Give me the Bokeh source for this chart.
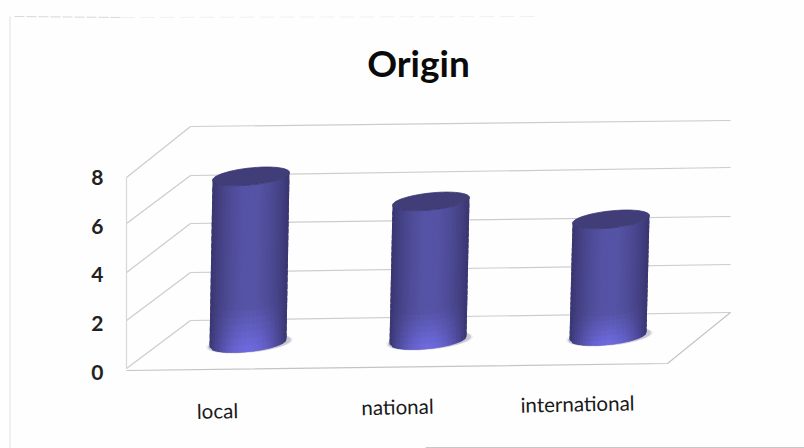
import numpy as np
from bokeh.core.properties import value
from bokeh.embed import file_html
from bokeh.models import FixedTicker, LinearAxis, Range1d
from bokeh.plotting import figure
from bokeh.resources import INLINE

# Chart content
title = "Origin"
categories = ["local", "national", "international"]
values = [6.85, 5.7, 4.8]
ticks = [0, 2, 4, 6, 8]

# Layout of the pseudo-3D scene, in page pixels
W, H = 804, 448
FRAME_LEFT = 120
Y0_PX = 372
PX_PER_UNIT = 24.4
BAR_X_PX = [249, 429, 609]
BAR_BASE_PX = [343, 340, 336]
BAR_A = 38.5
BAR_B = 8.5
BAR_TILT = 0.1
BAR_LEAN = 3.0


def xd(px):
    return np.asarray(px, dtype=float)


def yd(py):
    return (Y0_PX - np.asarray(py, dtype=float)) / PX_PER_UNIT


p = figure(width=W, height=H, output_backend="svg", toolbar_location=None,
           x_range=Range1d(FRAME_LEFT, W), y_range=Range1d(float(yd(H)), float(yd(0))),
           x_axis_location=None, y_axis_location=None,
           min_border_left=FRAME_LEFT, min_border_right=0, min_border_top=0, min_border_bottom=0)
p.background_fill_color = "#fefefe"
p.border_fill_color = "#fefefe"
p.outline_line_color = None
p.xgrid.visible = False
p.ygrid.visible = False

axis = LinearAxis(ticker=FixedTicker(ticks=ticks))
axis.axis_line_color = None
axis.major_tick_line_color = None
axis.minor_tick_line_color = None
axis.major_label_standoff = 11
axis.major_label_text_font = "Lato"
axis.major_label_text_font_size = "21px"
axis.major_label_text_font_style = "bold"
axis.major_label_text_color = "#222222"
p.add_layout(axis, "left")

# Walls and floor: front edge, back wall gridlines, side wall gridlines
GRID = "#cccccc"
front_x, back_x, right_x = 126, 190, 730
front_left = {8: 177, 6: 223, 4: 272, 2: 320, 0: 368}
back_left = {8: 126, 6: 175, 4: 223, 2: 272, 0: 320}
back_right = {8: 120, 6: 167, 4: 216, 2: 264, 0: 312}
for t in ticks:
    p.line(xd([back_x, right_x]), yd([back_left[t], back_right[t]]), line_color=GRID, line_width=1.2)
    p.line(xd([front_x, back_x]), yd([front_left[t], back_left[t]]), line_color=GRID, line_width=1.2)
p.line(xd([front_x, front_x]), yd([front_left[0], front_left[8]]), line_color="#d8d8d8", line_width=1.2)
p.line(xd([front_x, 667, right_x]), yd([370, 363, 312]), line_color="#c4c4c4", line_width=1.2)


def lerp(a, b, t):
    return a + (b - a) * t


def side_colour(u, v):
    """Shade of the cylinder wall; u runs across it (0..1), v from top to base (0..1)."""
    edge = abs(2 * u - 1) ** 1.9
    c_dark = np.array([58, 54, 112])
    c_mid = np.array([86, 84, 166])
    c_low = np.array([112, 108, 226])
    centre = lerp(c_mid, c_low, max(0.0, v - 0.72) / 0.28)
    c = lerp(centre, c_dark, edge)
    return "#%02x%02x%02x" % tuple(int(x) for x in c)


for val, cx, base_py in zip(values, BAR_X_PX, BAR_BASE_PX):
    top_py = base_py - val * PX_PER_UNIT

    # Soft contact shadow on the floor
    t = np.linspace(0, 2 * np.pi, 80)
    for grow, alpha in ((5, 0.08), (3, 0.22)):
        p.patch(cx + (BAR_A + grow) * np.cos(t),
                yd(base_py + (BAR_B + 0.5) * np.sin(t) - BAR_TILT * BAR_A * np.cos(t)),
                fill_color="#44446e", fill_alpha=alpha, line_color=None)

    # Cylinder wall: overlapping shaded cells painted left to right, top to bottom
    n_u, n_v = 30, 24
    for i in range(n_u):
        u0, u1 = i / n_u, (i + 1) / n_u
        u2 = min(1.0, u1 + 0.7 / n_u)
        dx0, dx2 = 2 * u0 - 1, 2 * u2 - 1
        front0 = np.sqrt(max(0, 1 - dx0 ** 2))
        front2 = np.sqrt(max(0, 1 - dx2 ** 2))
        off0 = BAR_B * front0 - BAR_TILT * BAR_A * dx0
        off2 = BAR_B * front2 - BAR_TILT * BAR_A * dx2
        xs, ys, cols = [], [], []
        for j in range(n_v):
            v0, v1 = j / n_v, (j + 1) / n_v
            v2 = min(1.0, v1 + 0.7 / n_v)
            h0 = lerp(top_py, base_py, v0)
            h2 = lerp(top_py, base_py, v2)
            lean0 = BAR_LEAN * (0.5 - v0)
            lean2 = BAR_LEAN * (0.5 - v2)
            xs.append([cx + BAR_A * dx0 + lean0, cx + BAR_A * dx2 + lean0,
                       cx + BAR_A * dx2 + lean2, cx + BAR_A * dx0 + lean2])
            ys.append(list(yd([h0 + off0, h0 + off2, h2 + off2, h2 + off0])))
            cols.append(side_colour((u0 + u1) / 2, (v0 + v1) / 2))
        p.patches(xs, ys, fill_color=cols, line_color=None)

    # Top cap
    p.patch(cx + BAR_LEAN / 2 + BAR_A * np.cos(t),
            yd(top_py + BAR_B * np.sin(t) - BAR_TILT * BAR_A * np.cos(t)),
            fill_color="#413d78", line_color="#3a366f", line_width=0.8)

# Category labels follow the slight upward slope of the floor
label_x = [217, 397, 577]
label_py = [410, 406, 403]
p.text(label_x, yd(label_py), text=categories, text_align="center", text_baseline="middle",
       text_font=value("Lato"), text_font_size="20.5px", text_color="#1a1a1a", angle=0.02)

# Chart title
p.text([418], yd([62]), text=[title], text_align="center", text_baseline="middle",
       text_font=value("Lato"), text_font_size="37px", text_font_style="bold", text_color="#0a0a0a")

# Faint frame of the chart area
p.line(xd([9.5, 9.5]), yd([16, 448]), line_color="#e4e4e4", line_width=1.2, level="overlay")
p.line(xd([14, 120]), yd([16, 17]), line_color="#d8d8d8", line_width=1, line_dash="10 2", level="overlay")
p.line(xd([120, 540]), yd([17, 16]), line_color="#f0f0f0", line_width=1, line_dash="14 6")
p.line(xd([425, 804]), yd([447, 447]), line_color="#c8c8c8", line_width=1.2)

open("out.html", "w").write(file_html(p, INLINE))
